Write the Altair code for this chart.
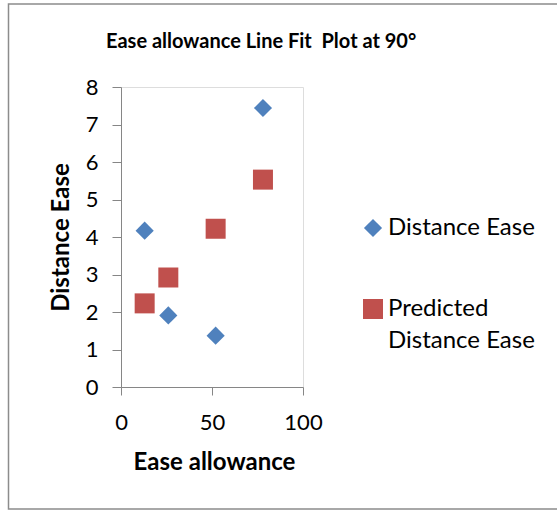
import altair as alt
import pandas as pd

ease_allowance = [13, 26, 52, 78]
distance_ease = [4.17, 1.91, 1.37, 7.44]
predicted_distance_ease = [2.23, 2.92, 4.22, 5.53]
series_names = ["Distance Ease", "Predicted Distance Ease"]
x_ticks = [0, 50, 100]
y_ticks = [0, 1, 2, 3, 4, 5, 6, 7, 8]

rows = []
for x, a, p in zip(ease_allowance, distance_ease, predicted_distance_ease):
    rows.append({"x": x, "y": a, "series": series_names[0]})
    rows.append({"x": x, "y": p, "series": series_names[1]})
df = pd.DataFrame(rows)

FONT = "Lato"
AXIS_GRAY = "#868686"

points = alt.Chart(df).mark_point(filled=True, opacity=1, strokeWidth=0).encode(
    x=alt.X("x:Q", scale=alt.Scale(domain=[0, 100], nice=False),
            axis=alt.Axis(values=x_ticks, title="Ease allowance", grid=False,
                          tickSize=8, domainColor=AXIS_GRAY, tickColor=AXIS_GRAY,
                          labelFontSize=22, labelFont=FONT, labelColor="black",
                          labelPadding=17, labelFlush=False,
                          titleFont=FONT, titleFontSize=24, titleFontWeight="bold",
                          titleColor="black", titleX=93, titleY=75,
                          titleBaseline="middle", titleAlign="center")),
    y=alt.Y("y:Q", scale=alt.Scale(domain=[0, 8], nice=False),
            axis=alt.Axis(values=y_ticks, title="Distance Ease", grid=False,
                          tickSize=9, domainColor=AXIS_GRAY, tickColor=AXIS_GRAY,
                          labelFontSize=22, labelFont=FONT, labelColor="black",
                          labelPadding=14, labelFlush=False,
                          titleFont=FONT, titleFontSize=24, titleFontWeight="bold",
                          titleColor="black", titleX=-60, titleY=150,
                          titleAngle=-90, titleBaseline="middle", titleAlign="center")),
    color=alt.Color("series:N",
                    scale=alt.Scale(domain=series_names, range=["#4F81BD", "#C0504D"]),
                    legend=alt.Legend(title=None, orient="none", legendX=240, legendY=129,
                                      labelFont=FONT, labelFontSize=24, labelColor="black",
                                      symbolSize=330, symbolStrokeWidth=0, symbolOpacity=1,
                                      rowPadding=57, labelOffset=3, labelLimit=300,
                                      labelExpr="datum.label == 'Predicted Distance Ease' ? ['Predicted', 'Distance Ease'] : datum.label")),
    shape=alt.Shape("series:N",
                    scale=alt.Scale(domain=series_names, range=["diamond", "square"])),
    size=alt.Size("series:N",
                  scale=alt.Scale(domain=series_names, range=[330, 400]), legend=None),
)

border = alt.Chart(alt.Data(values=[{"b": 1}])).mark_rect(
    fill=None, stroke="#8c8c8c", strokeWidth=1.5
).encode(
    x=alt.value(-112.5), x2=alt.value(445), y=alt.value(-83), y2=alt.value(422)
)

chart = alt.layer(border, points).properties(
    width=182, height=300,
    title=alt.TitleParams("Ease allowance Line Fit\u00a0 Plot at 90°", font=FONT, fontSize=20,
                          fontWeight="bold", color="black", anchor="start", frame="group",
                          dx=-15, offset=0, dy=49),
    autosize=alt.AutoSizeParams(type="none"),
    padding={"left": 121, "top": 87, "right": 254, "bottom": 123},
).configure_view(stroke=None).configure(
    background="white",
    style={"guide-label": {"lineHeight": 32}},
)

chart.save("out.html", embed_options={"renderer": "svg", "actions": False})
